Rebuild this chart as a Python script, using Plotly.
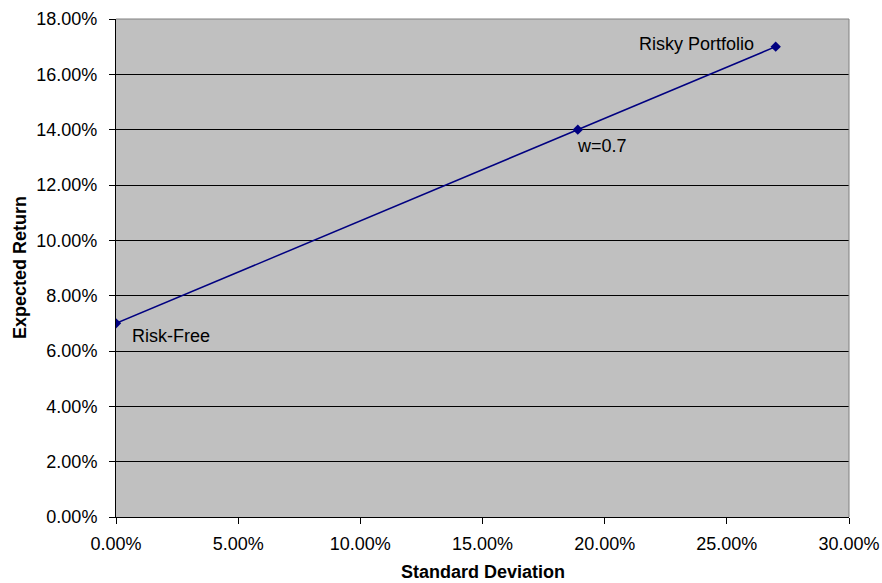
import plotly.graph_objects as go

# Capital allocation line: risk-free asset, a 70% mix, and the risky portfolio
std_dev = [0.0, 0.189, 0.27]
exp_return = [0.07, 0.14, 0.17]
point_labels = ["Risk-Free", "w=0.7", "Risky Portfolio"]

x_ticks = [0.0, 0.05, 0.10, 0.15, 0.20, 0.25, 0.30]
y_ticks = [0.0, 0.02, 0.04, 0.06, 0.08, 0.10, 0.12, 0.14, 0.16, 0.18]

FONT = "Liberation Sans, Arial, sans-serif"
FS = 18

fig = go.Figure()
fig.add_trace(go.Scatter(
    x=std_dev, y=exp_return, mode="lines+markers",
    line=dict(color="#000080", width=1.5),
    marker=dict(symbol="diamond", size=8, color="#000080"),
    showlegend=False, hoverinfo="x+y",
))

# point labels beside each marker: (xshift, yshift, xanchor)
offsets = [(14, -13, "left"), (-3, -16, "left"), (-20, 3, "right")]
for xv, yv, txt, (dx, dy, anc) in zip(std_dev, exp_return, point_labels, offsets):
    fig.add_annotation(
        x=xv, y=yv, text=txt, showarrow=False,
        xanchor=anc, yanchor="middle", xshift=dx, yshift=dy,
        font=dict(family=FONT, size=FS, color="black"),
    )

# axis titles
fig.add_annotation(
    x=0.5, y=0, xref="paper", yref="paper", text="<b>Standard Deviation</b>",
    showarrow=False, xanchor="center", yanchor="middle", yshift=-55, borderpad=0,
    font=dict(family=FONT, size=FS, color="black"),
)
fig.add_annotation(
    x=0, y=0.5, xref="paper", yref="paper", text="<b>Expected Return</b>",
    showarrow=False, textangle=-90, xanchor="center", yanchor="middle", xshift=-96,
    font=dict(family=FONT, size=FS, color="black"),
)

fig.update_layout(
    width=882, height=583,
    margin=dict(l=116, r=33, t=19, b=66, autoexpand=False),
    paper_bgcolor="white", plot_bgcolor="#C0C0C0",
    font=dict(family=FONT, size=FS, color="black"),
    xaxis=dict(
        range=[0, 0.30], tickvals=x_ticks, tickformat=".2%",
        showgrid=False, zeroline=False, automargin=False,
        showline=True, linecolor="black", linewidth=1,
        ticks="outside", ticklen=6, tickcolor="black",
        ticklabelstandoff=4,
    ),
    yaxis=dict(
        range=[0, 0.18], tickvals=y_ticks, tickformat=".2%",
        showgrid=True, gridcolor="black", gridwidth=1, zeroline=False, automargin=False,
        showline=True, linecolor="black", linewidth=1,
        ticks="outside", ticklen=6, tickcolor="black",
        ticklabelstandoff=8,
    ),
)

# soft frame on the top and right edges of the plot area
fig.add_shape(type="line", xref="paper", yref="paper", x0=0, x1=1, y0=1, y1=1,
              line=dict(color="#808080", width=1))
fig.add_shape(type="line", xref="paper", yref="paper", x0=1, x1=1, y0=0, y1=1,
              line=dict(color="#808080", width=1))

fig.write_html("out.html")
